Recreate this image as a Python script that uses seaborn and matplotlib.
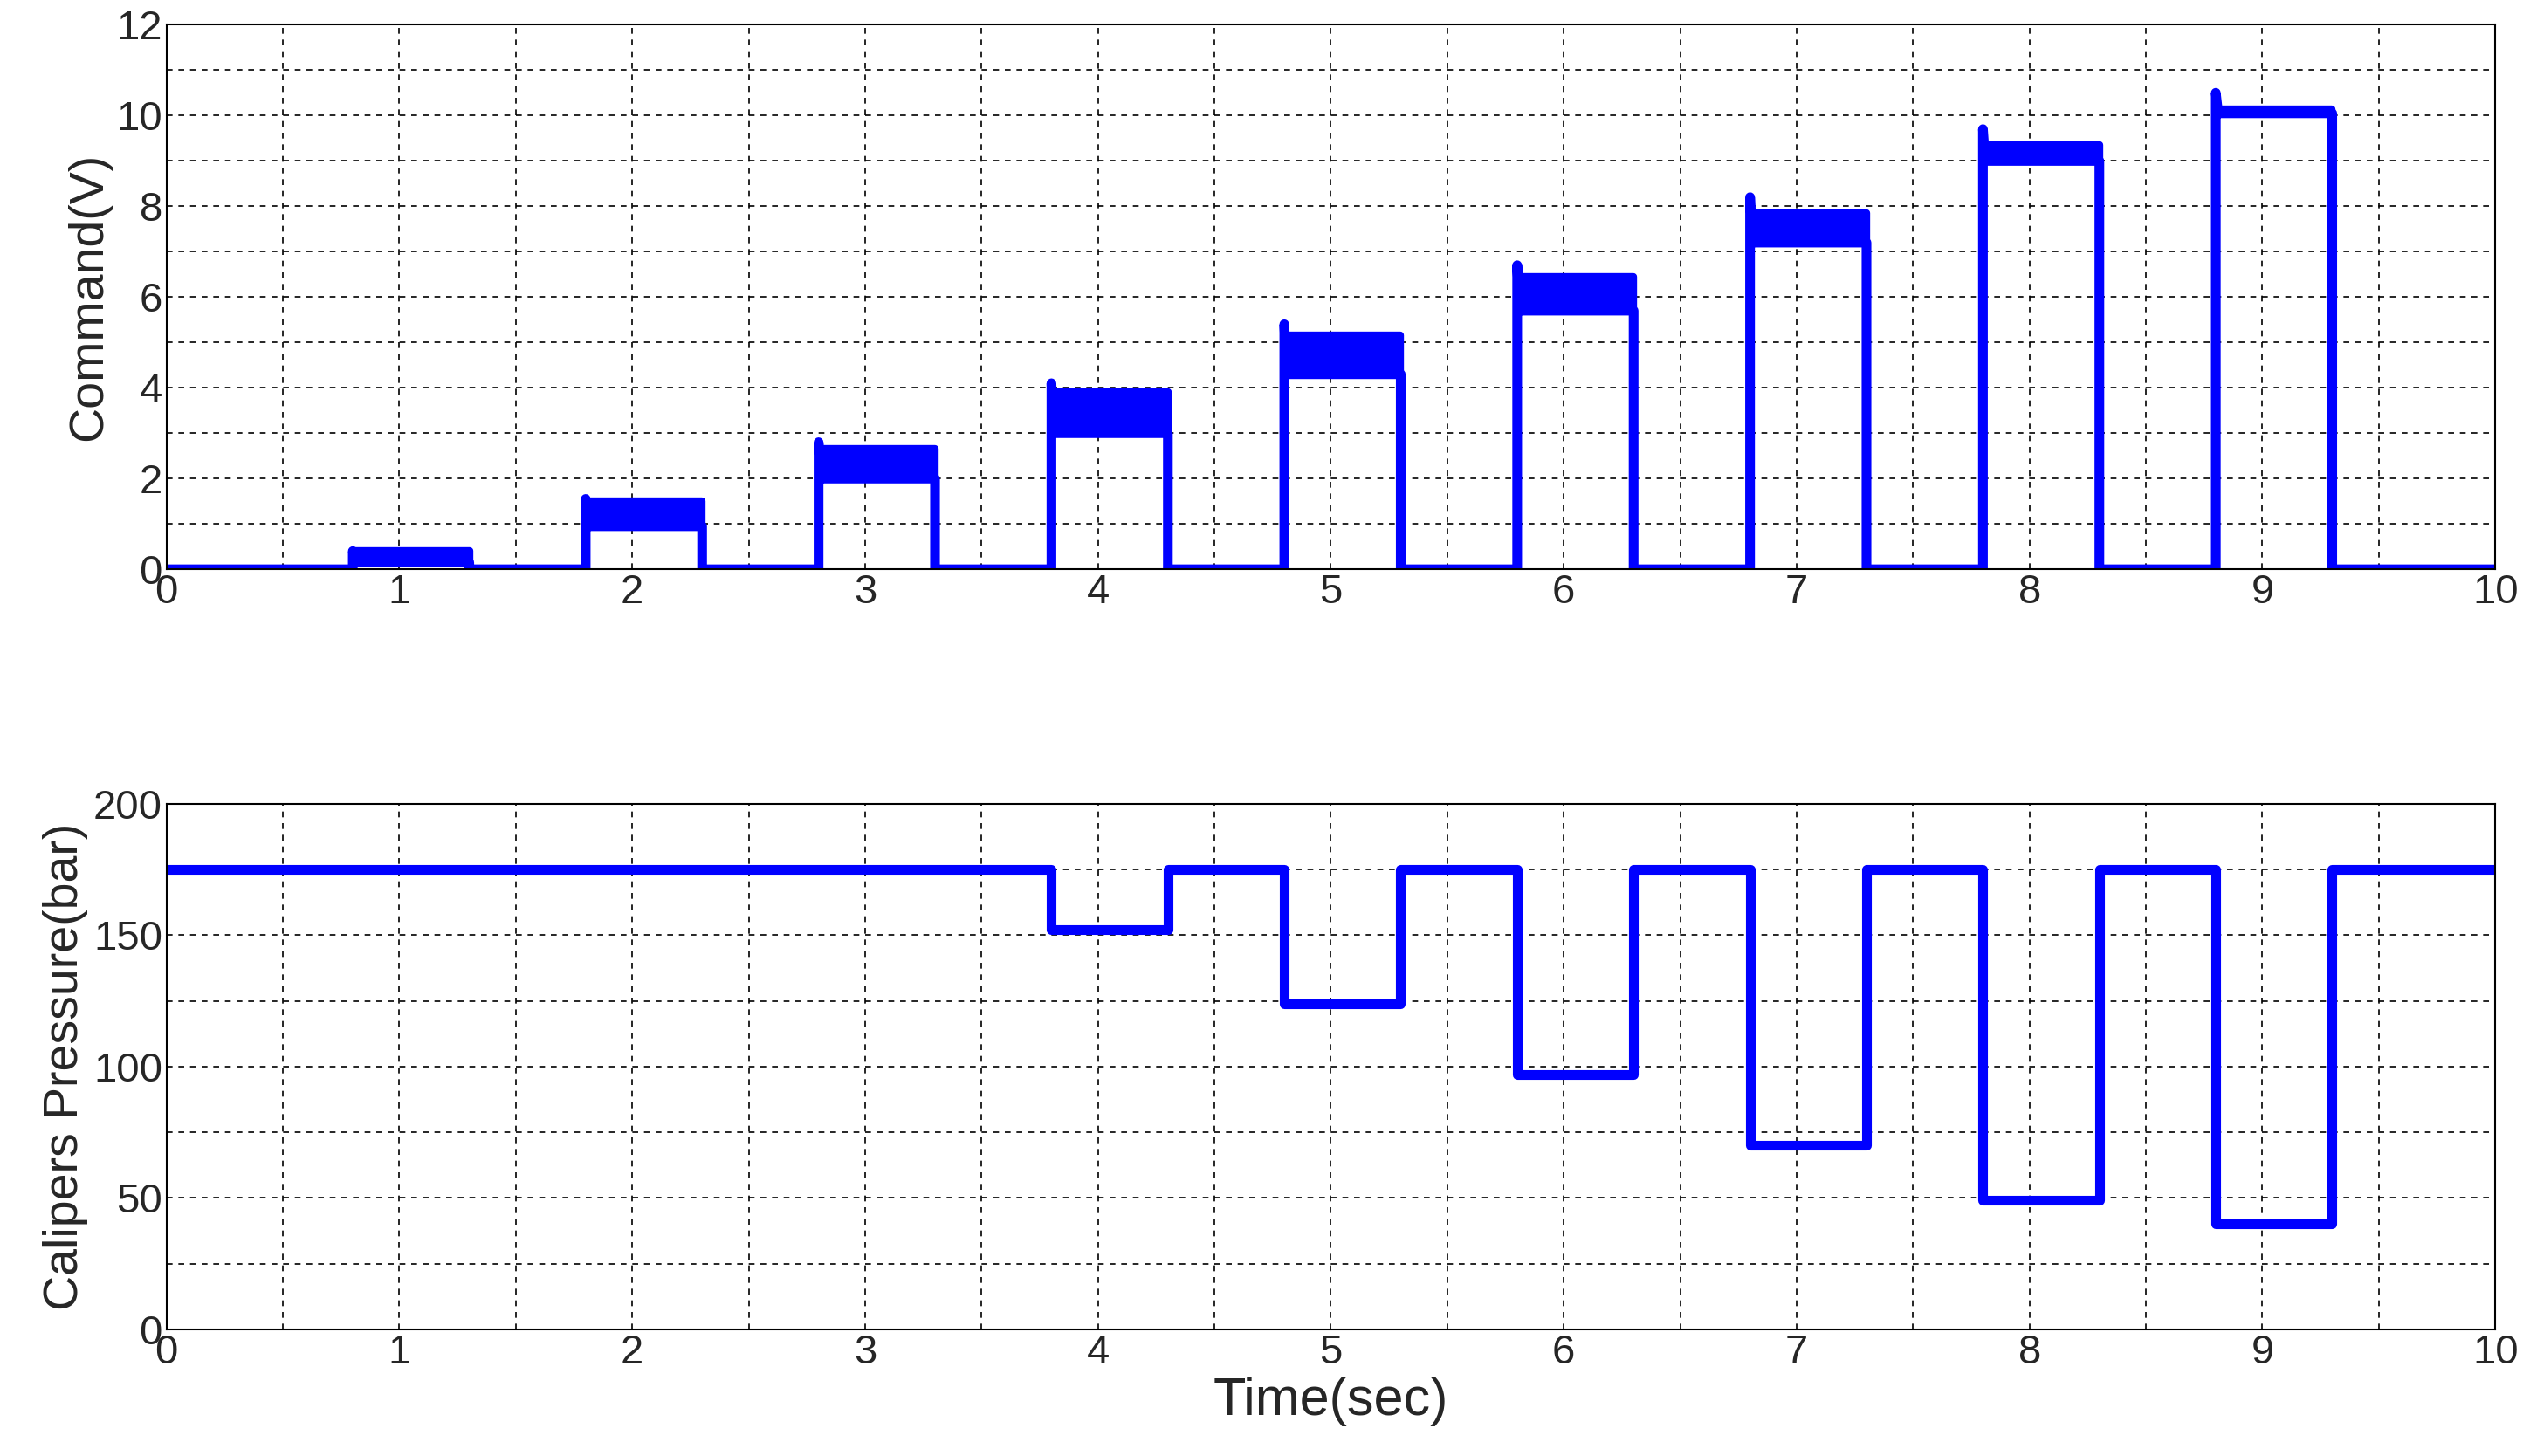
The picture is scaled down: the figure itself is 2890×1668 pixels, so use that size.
import numpy as np
import pandas as pd
import matplotlib.pyplot as plt
import seaborn as sns

sns.set_style("white")
plt.rcParams['font.family'] = ['Liberation Sans', 'DejaVu Sans']

# pulse timing and levels
pulse_start = [0.80, 1.80, 2.80, 3.80, 4.80, 5.80, 6.80, 7.80, 8.80]
pulse_end = [1.30, 2.30, 3.30, 4.30, 5.30, 6.30, 7.30, 8.30, 9.30]
cmd_low = [0.15, 0.95, 2.0, 3.0, 4.3, 5.7, 7.2, 9.0, 10.05]
cmd_high = [0.4, 1.5, 2.65, 3.9, 5.15, 6.45, 7.85, 9.35, 10.15]
cmd_peak = [0.4, 1.55, 2.8, 4.1, 5.4, 6.7, 8.2, 9.7, 10.5]
press_base = 175
press_level = [175, 175, 175, 152, 124, 97, 70, 49, 40]
t_end = 10

def step_frame(levels, peaks=None):
    base = 0 if peaks is not None else press_base
    t, v = [0], [base]
    for i, (s, e) in enumerate(zip(pulse_start, pulse_end)):
        t += [s, s]
        v += [base, peaks[i] if peaks is not None else levels[i]]
        t += [s + 0.01, e, e]
        v += [levels[i], levels[i], base]
    t.append(t_end)
    v.append(base)
    return pd.DataFrame({'t': t, 'v': v})

fig = plt.figure(figsize=(28.9, 16.68), dpi=100)
ax1 = fig.add_axes([0.066, 0.609, 0.923, 0.374])
ax2 = fig.add_axes([0.066, 0.087, 0.923, 0.361])

blue = '#0000ff'
top = step_frame(cmd_low, cmd_peak)
sns.lineplot(data=top, x='t', y='v', ax=ax1, color=blue, lw=8, sort=False, estimator=None)
for s, e, lo, hi in zip(pulse_start, pulse_end, cmd_low, cmd_high):
    ax1.fill_between([s, e], lo, hi, color=blue, lw=6, edgecolor=blue)

bot = step_frame(press_level)
sns.lineplot(data=bot, x='t', y='v', ax=ax2, color=blue, lw=8, sort=False, estimator=None)

ax1.set_ylim(0, 12)
ax1.set_yticks(np.arange(0, 13, 2))
ax1.set_yticks(np.arange(0, 12, 1), minor=True)
ax1.set_ylabel('Command(V)', fontsize=40)
ax2.set_ylim(0, 200)
ax2.set_yticks(np.arange(0, 201, 50))
ax2.set_yticks(np.arange(0, 200, 25), minor=True)
ax2.set_ylabel('Calipers Pressure(bar)', fontsize=40)
ax2.set_xlabel('Time(sec)', fontsize=44)
ax1.set_xlabel('')

for ax in (ax1, ax2):
    ax.set_xlim(0, 10)
    ax.set_xticks(np.arange(0, 11, 1))
    ax.set_xticks(np.arange(0, 10, 0.5), minor=True)
    ax.grid(True, which='both', color='black', ls=(0, (4, 4)), lw=1.2)
    ax.tick_params(which='both', direction='in', labelsize=34, length=10)
    ax.tick_params(which='minor', length=0)
    for sp in ax.spines.values():
        sp.set_color('black')
        sp.set_linewidth(1.5)

fig.savefig('out.png', dpi=100)
